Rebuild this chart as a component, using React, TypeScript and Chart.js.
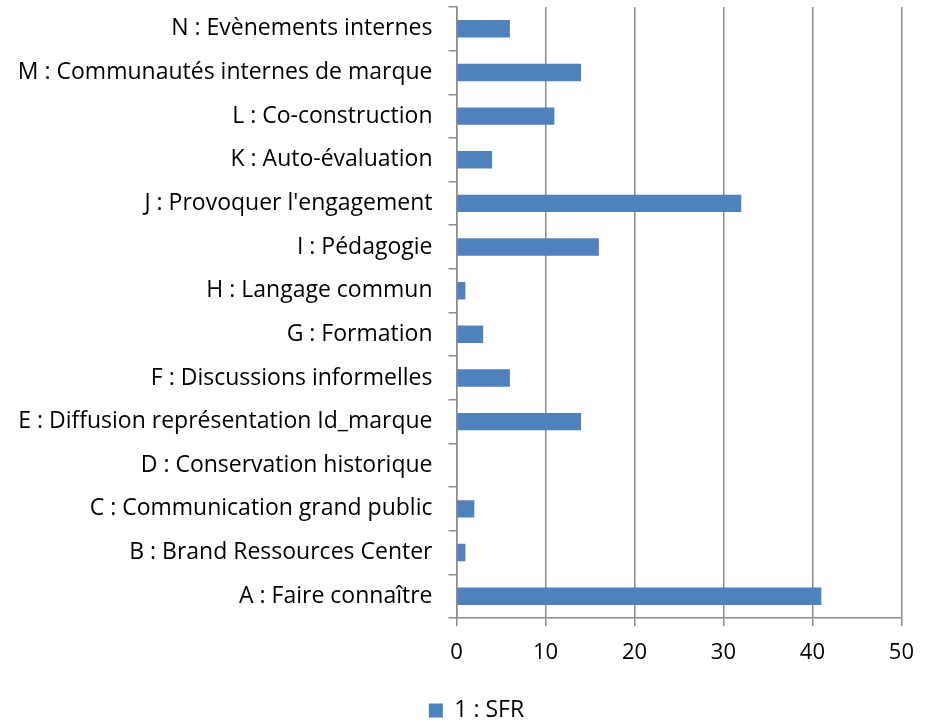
import React, { useEffect, useRef } from "react";
import { Chart, registerables } from "chart.js";

Chart.register(...registerables);

const categories = [
  "N : Evènements internes",
  "M : Communautés internes de marque",
  "L : Co-construction",
  "K : Auto-évaluation",
  "J : Provoquer l'engagement",
  "I : Pédagogie",
  "H : Langage commun",
  "G : Formation",
  "F : Discussions informelles",
  "E : Diffusion représentation Id_marque",
  "D : Conservation historique",
  "C : Communication grand public",
  "B : Brand Ressources Center",
  "A : Faire connaître",
];
const sfrValues = [6, 14, 11, 4, 32, 16, 1, 3, 6, 14, 0, 2, 1, 41];
const seriesName = "1 : SFR";
const xMin = 0;
const xMax = 50;
const xStep = 10;

const FONT = "'Open Sans', 'Noto Sans', sans-serif";
const GRID = "#8c8c8c";

const legendShift = {
  id: "legendShift",
  afterLayout(chart: any) {
    const lg = chart.legend;
    if (!lg) return;
    lg.left += 24.5;
    lg.right += 24.5;
    lg.top += 10;
    lg.bottom += 10;
  },
};

export default function App() {
  const ref = useRef<HTMLCanvasElement | null>(null);
  useEffect(() => {
    if (!ref.current) return;
    const chart = new Chart(ref.current, {
      type: "bar",
      data: {
        labels: categories,
        datasets: [
          {
            label: seriesName,
            data: sfrValues,
            backgroundColor: "#4f81bd",
            borderColor: "#4f81bd",
            borderWidth: 0,
            barPercentage: 0.7,
            categoryPercentage: 0.57,
          },
        ],
      },
      plugins: [legendShift],
      options: {
        indexAxis: "y",
        animation: false,
        responsive: true,
        maintainAspectRatio: false,
        layout: { padding: { top: 7, right: 24, left: 0, bottom: 0 } },
        plugins: {
          legend: {
            position: "bottom",
            labels: {
              font: { family: FONT, size: 23 },
              color: "#000",
              boxWidth: 14,
              boxHeight: 14,
              padding: 1,
            },
          },
          tooltip: { enabled: false },
        },
        scales: {
          x: {
            min: xMin,
            max: xMax,
            ticks: {
              stepSize: xStep,
              font: { family: FONT, size: 22 },
              color: "#000",
              padding: 14,
            },
            grid: {
              color: GRID,
              lineWidth: 1.5,
              tickLength: 8,
              drawTicks: true,
            },
            border: { color: GRID, width: 1.5 },
            afterFit: (s: any) => {
              s.height = 70;
            },
          },
          y: {
            ticks: {
              font: { family: FONT, size: 23 },
              color: "#000",
              padding: 16,
              autoSkip: false,
            },
            grid: {
              drawOnChartArea: false,
              color: GRID,
              lineWidth: 1.5,
              tickLength: 8,
              offset: true,
            },
            border: { color: GRID, width: 1.5 },
            afterFit: (s: any) => {
              s.width = 456.5;
              s.paddingTop = 0;
              s.paddingBottom = 0;
            },
          },
        },
      },
    });
    return () => chart.destroy();
  }, []);
  return (
    <div style={{ position: "absolute", left: 0, top: 0, width: 928, height: 722, background: "#fff" }}>
      <canvas ref={ref} />
    </div>
  );
}
